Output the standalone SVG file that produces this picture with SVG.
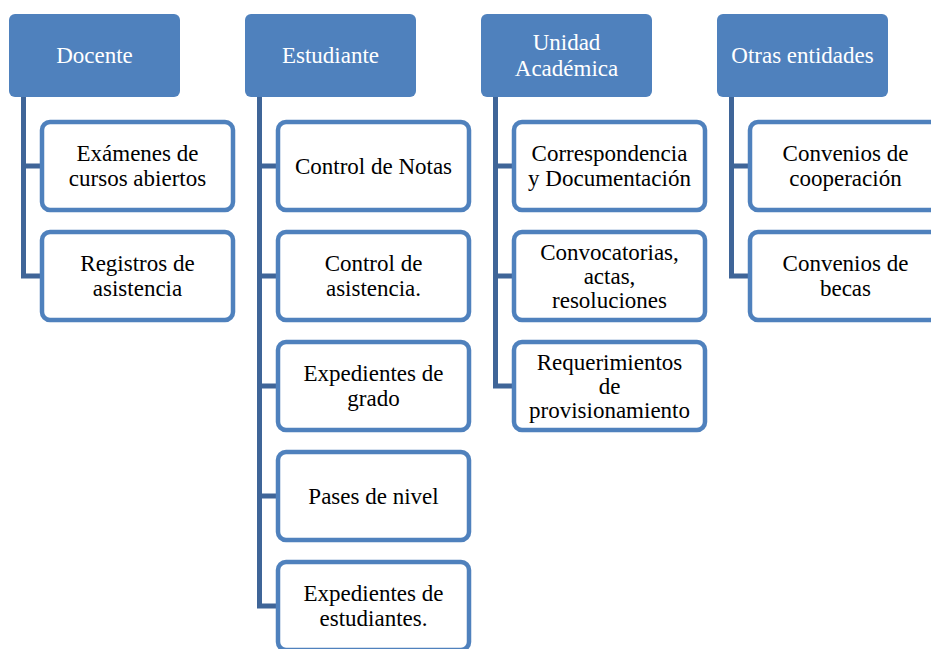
<svg xmlns="http://www.w3.org/2000/svg" width="931" height="649" viewBox="0 0 931 649">
<style>
.hdr{fill:#4F81BD;}
.hdr-t{fill:#FFFFFF;font-family:"Liberation Serif","Times New Roman",serif;font-size:23px;text-anchor:middle;}
.box{fill:#FFFFFF;stroke:#4F81BD;stroke-width:4.5;}
.t{fill:#000000;font-family:"Liberation Serif","Times New Roman",serif;font-size:23px;text-anchor:middle;}
.con{fill:none;stroke:#3F6598;stroke-width:5;}
</style>
<rect width="931" height="649" fill="#FFFFFF"/>
<g id="connectors">
<path class="con" d="M23.5,97 V278.5 M21,166 H42 M21,276 H42"/>
<path class="con" d="M259.5,97 V608.5 M257,166 H278 M257,276 H278 M257,386 H278 M257,496 H278 M257,606 H278"/>
<path class="con" d="M495.5,97 V388.5 M493,166 H514 M493,276 H514 M493,386 H514"/>
<path class="con" d="M731.5,97 V278.5 M729,166 H750 M729,276 H750"/>
</g>
<g id="docente"><rect class="hdr" x="9" y="14" width="171" height="83" rx="6"/><text class="hdr-t" x="94.5" y="63">Docente</text></g>
<g id="estudiante"><rect class="hdr" x="245" y="14" width="171" height="83" rx="6"/><text class="hdr-t" x="330.5" y="63">Estudiante</text></g>
<g id="unidad"><rect class="hdr" x="481" y="14" width="171" height="83" rx="6"/><text class="hdr-t" x="566.5" y="50">Unidad</text><text class="hdr-t" x="566.5" y="76">Académica</text></g>
<g id="otras"><rect class="hdr" x="717" y="14" width="171" height="83" rx="6"/><text class="hdr-t" x="802.5" y="63">Otras entidades</text></g>

<g id="d1"><rect class="box" x="42" y="122" width="191" height="88" rx="8"/><text class="t" x="137.5" y="161">Exámenes de</text><text class="t" x="137.5" y="186">cursos abiertos</text></g>
<g id="d2"><rect class="box" x="42" y="232" width="191" height="88" rx="8"/><text class="t" x="137.5" y="271">Registros de</text><text class="t" x="137.5" y="296">asistencia</text></g>

<g id="e1"><rect class="box" x="278" y="122" width="191" height="88" rx="8"/><text class="t" x="373.5" y="174">Control de Notas</text></g>
<g id="e2"><rect class="box" x="278" y="232" width="191" height="88" rx="8"/><text class="t" x="373.5" y="271">Control de</text><text class="t" x="373.5" y="296">asistencia.</text></g>
<g id="e3"><rect class="box" x="278" y="342" width="191" height="88" rx="8"/><text class="t" x="373.5" y="381">Expedientes de</text><text class="t" x="373.5" y="406">grado</text></g>
<g id="e4"><rect class="box" x="278" y="452" width="191" height="88" rx="8"/><text class="t" x="373.5" y="504">Pases de nivel</text></g>
<g id="e5"><rect class="box" x="278" y="562" width="191" height="88" rx="8"/><text class="t" x="373.5" y="601">Expedientes de</text><text class="t" x="373.5" y="626">estudiantes.</text></g>

<g id="u1"><rect class="box" x="514" y="122" width="191" height="88" rx="8"/><text class="t" x="609.5" y="161">Correspondencia</text><text class="t" x="609.5" y="186">y Documentación</text></g>
<g id="u2"><rect class="box" x="514" y="232" width="191" height="88" rx="8"/><text class="t" x="609.5" y="260">Convocatorias,</text><text class="t" x="609.5" y="284">actas,</text><text class="t" x="609.5" y="308">resoluciones</text></g>
<g id="u3"><rect class="box" x="514" y="342" width="191" height="88" rx="8"/><text class="t" x="609.5" y="370">Requerimientos</text><text class="t" x="609.5" y="394">de</text><text class="t" x="609.5" y="418">provisionamiento</text></g>

<g id="o1"><rect class="box" x="750" y="122" width="191" height="88" rx="8"/><text class="t" x="845.5" y="161">Convenios de</text><text class="t" x="845.5" y="186">cooperación</text></g>
<g id="o2"><rect class="box" x="750" y="232" width="191" height="88" rx="8"/><text class="t" x="845.5" y="271">Convenios de</text><text class="t" x="845.5" y="296">becas</text></g>
</svg>
